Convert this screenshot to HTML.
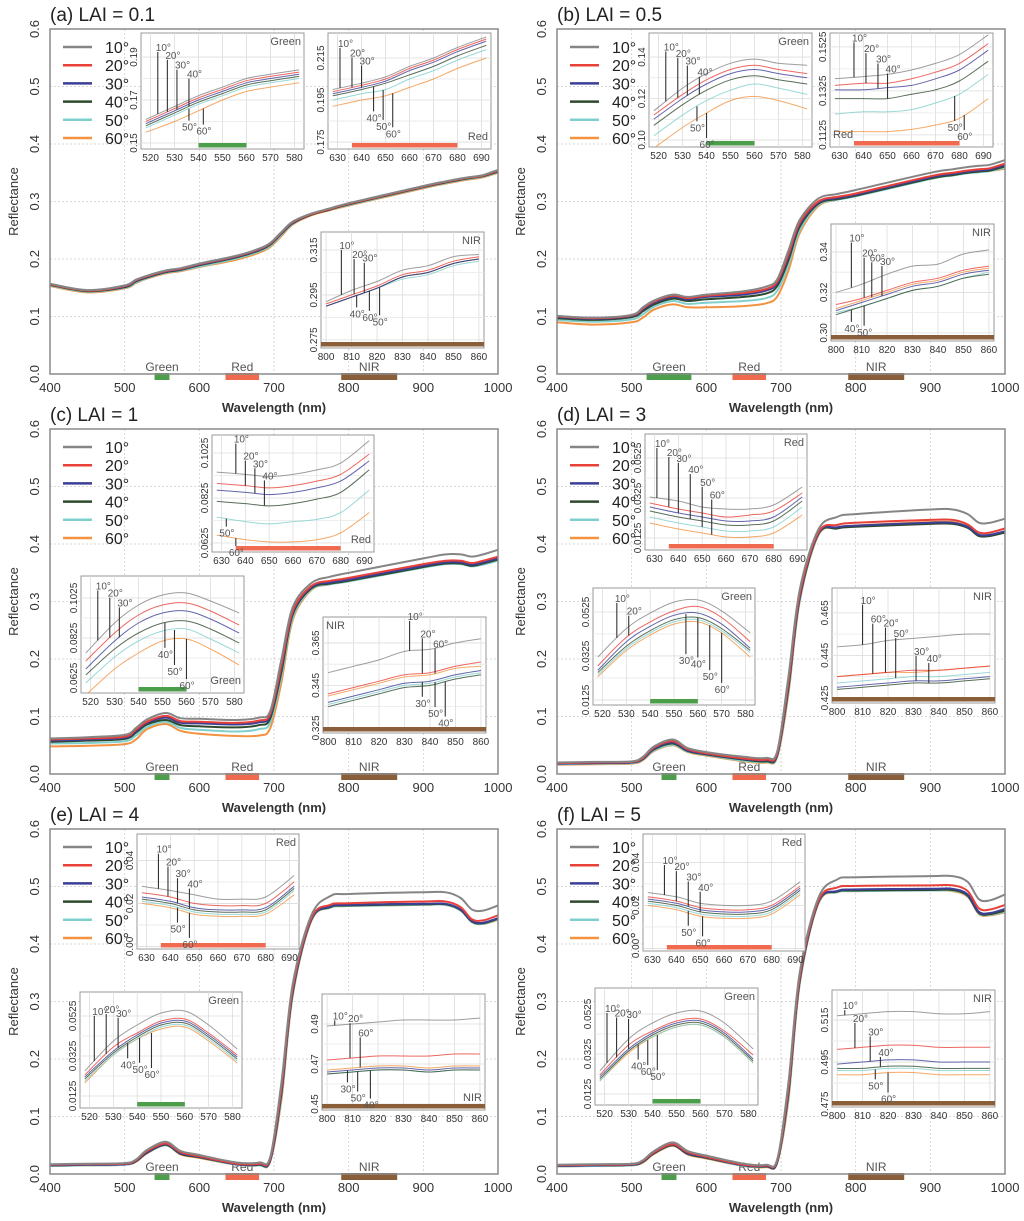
<!DOCTYPE html>
<html><head><meta charset="utf-8">
<style>
html,body{margin:0;padding:0;background:#fff;}
svg{display:block;font-family:"Liberation Sans",sans-serif;}
</style></head>
<body>
<svg id="fig" width="1024" height="1221" viewBox="0 0 1024 1221" xmlns="http://www.w3.org/2000/svg"></svg>
<script>
// ---------- data ----------
const angles = [10,20,30,40,50,60];
const wl = [400,450,500,515,530,555,575,600,650,680,695,710,725,750,775,800,900,930,950,965,980,1000];
const xTicks = [400,500,600,700,800,900,1000];
const yTicks = [0.0,0.1,0.2,0.3,0.4,0.5,0.6];
const yTickLabels = ["0.0","0.1","0.2","0.3","0.4","0.5","0.6"];

const mainA = [
[.157,.146,.154,.164,.171,.180,.184,.192,.206,.218,.228,.247,.265,.279,.288,.297,.327,.335,.340,.343,.346,.355],
[.156,.145,.153,.163,.170,.179,.183,.191,.205,.217,.227,.246,.264,.278,.287,.296,.326,.334,.339,.342,.345,.354],
[.156,.145,.152,.162,.169,.178,.182,.190,.204,.216,.226,.245,.263,.278,.287,.296,.326,.334,.339,.342,.345,.353],
[.155,.144,.151,.161,.168,.177,.181,.189,.203,.215,.225,.244,.262,.277,.286,.295,.325,.333,.338,.341,.344,.352],
[.154,.143,.150,.159,.167,.176,.180,.187,.201,.213,.223,.242,.261,.277,.286,.294,.324,.332,.337,.340,.343,.351],
[.153,.142,.149,.158,.166,.175,.179,.186,.199,.211,.221,.240,.260,.276,.285,.293,.323,.331,.336,.339,.342,.350]];
const mainB = [
[.101,.098,.103,.116,.128,.138,.134,.138,.144,.152,.165,.215,.268,.305,.313,.320,.350,.356,.360,.362,.364,.372],
[.100,.097,.102,.114,.126,.136,.132,.136,.141,.148,.161,.208,.263,.300,.308,.314,.344,.350,.354,.356,.358,.366],
[.099,.096,.101,.112,.124,.134,.130,.134,.138,.145,.158,.204,.260,.298,.306,.312,.342,.348,.352,.354,.356,.364],
[.097,.094,.099,.109,.121,.131,.127,.130,.134,.140,.153,.198,.256,.296,.304,.310,.340,.346,.350,.352,.354,.361],
[.094,.091,.095,.104,.117,.127,.122,.124,.127,.132,.145,.190,.250,.294,.303,.309,.339,.345,.349,.351,.353,.359],
[.090,.086,.090,.098,.112,.121,.116,.116,.118,.123,.135,.180,.245,.292,.303,.310,.340,.346,.350,.352,.353,.357]];
const mainC = [
[.062,.064,.068,.080,.095,.106,.097,.096,.094,.098,.110,.200,.290,.332,.343,.350,.375,.382,.382,.378,.382,.390],
[.060,.062,.065,.077,.091,.101,.092,.091,.089,.093,.105,.190,.283,.327,.336,.341,.365,.371,.371,.367,.371,.378],
[.058,.060,.063,.075,.089,.098,.089,.088,.086,.090,.102,.185,.280,.325,.333,.338,.362,.368,.368,.364,.368,.375],
[.056,.058,.061,.072,.086,.094,.085,.083,.081,.085,.097,.178,.277,.323,.331,.336,.360,.366,.366,.362,.366,.373],
[.053,.054,.057,.067,.082,.091,.080,.077,.074,.078,.090,.170,.272,.321,.330,.335,.359,.365,.365,.361,.364,.371],
[.048,.049,.052,.060,.078,.087,.075,.070,.066,.067,.080,.160,.268,.320,.330,.337,.362,.368,.368,.362,.365,.372]];
const mainD = [
[.020,.021,.022,.030,.048,.060,.045,.038,.030,.028,.040,.170,.320,.425,.447,.452,.460,.460,.452,.437,.437,.444],
[.019,.020,.021,.028,.046,.057,.043,.036,.027,.025,.037,.160,.312,.420,.433,.437,.442,.442,.434,.420,.420,.427],
[.018,.019,.020,.027,.044,.055,.041,.035,.026,.024,.035,.155,.308,.418,.429,.432,.437,.437,.430,.416,.416,.422],
[.018,.019,.020,.026,.043,.053,.040,.034,.025,.022,.033,.150,.305,.417,.427,.430,.435,.435,.428,.414,.414,.420],
[.017,.018,.019,.025,.041,.051,.039,.033,.023,.021,.031,.145,.302,.416,.428,.431,.436,.436,.429,.415,.415,.421],
[.016,.017,.018,.024,.040,.050,.038,.032,.022,.020,.030,.140,.300,.415,.428,.432,.438,.438,.430,.415,.416,.420]];
const mainE = [
[.017,.018,.019,.025,.042,.056,.040,.033,.020,.020,.030,.160,.330,.450,.483,.487,.490,.490,.480,.460,.458,.467],
[.016,.017,.018,.024,.040,.053,.038,.031,.018,.018,.027,.150,.322,.445,.468,.471,.474,.474,.464,.443,.441,.450],
[.015,.016,.017,.023,.038,.052,.036,.030,.017,.017,.025,.145,.318,.443,.465,.468,.470,.470,.460,.440,.437,.445],
[.015,.016,.017,.022,.037,.051,.035,.029,.017,.016,.024,.140,.315,.442,.464,.467,.469,.469,.459,.439,.436,.444],
[.014,.015,.016,.022,.037,.050,.035,.029,.016,.015,.023,.135,.312,.441,.463,.466,.468,.468,.458,.438,.435,.443],
[.014,.015,.016,.021,.036,.050,.034,.028,.016,.015,.022,.130,.310,.440,.463,.466,.468,.468,.458,.438,.435,.442]];
const mainF = [
[.016,.017,.018,.024,.040,.055,.040,.032,.018,.016,.026,.160,.350,.480,.512,.516,.518,.518,.508,.478,.476,.486],
[.015,.016,.017,.023,.038,.052,.038,.030,.016,.015,.024,.150,.342,.475,.498,.501,.502,.502,.492,.462,.460,.468],
[.014,.015,.016,.022,.037,.051,.036,.029,.015,.014,.022,.145,.338,.473,.492,.495,.496,.496,.486,.456,.454,.461],
[.014,.015,.016,.021,.036,.050,.035,.028,.015,.013,.021,.140,.335,.472,.491,.493,.494,.494,.484,.454,.452,.458],
[.013,.014,.015,.021,.036,.050,.035,.028,.014,.013,.021,.135,.332,.471,.490,.492,.493,.493,.483,.453,.451,.456],
[.013,.014,.015,.020,.035,.049,.034,.027,.014,.012,.020,.130,.330,.470,.490,.492,.493,.492,.482,.452,.450,.455]];

const wlGreen = [518,530,540,550,560,570,582];
const wlRed = [628,640,650,660,670,680,692];
const wlNir = [800,810,820,830,840,850,860];
const ticksGreen = [520,530,540,550,560,570,580];
const ticksRed = [630,640,650,660,670,680,690];
const ticksNir = [800,810,820,830,840,850,860];

const aGreen = [[.161,.167,.172,.176,.180,.182,.184],[.160,.166,.171,.175,.179,.181,.183],[.159,.165,.170,.174,.178,.180,.182],[.158,.164,.169,.173,.177,.179,.181],[.157,.163,.168,.172,.176,.178,.180],[.155,.160,.165,.170,.174,.176,.178]];
const aRed = [[.200,.203,.206,.211,.215,.220,.225],[.199,.202,.205,.210,.214,.219,.224],[.198,.201,.204,.209,.213,.218,.223],[.197,.200,.203,.207,.211,.216,.221],[.195,.198,.200,.205,.209,.214,.219],[.192,.195,.197,.201,.205,.210,.215]];
const aNir = [[.292,.297,.301,.306,.308,.312,.313],[.291,.295,.299,.304,.306,.310,.312],[.290,.294,.298,.303,.305,.309,.311],[.290,.294,.298,.303,.305,.309,.311],[.290,.294,.298,.302,.304,.308,.310],[.290,.294,.298,.303,.305,.309,.311]];
const bGreen = [[.114,.125,.132,.137,.139,.137,.136],[.112,.122,.129,.134,.136,.134,.132],[.110,.120,.127,.132,.134,.132,.130],[.107,.117,.124,.129,.131,.129,.127],[.102,.112,.119,.124,.127,.125,.122],[.096,.106,.113,.119,.121,.119,.115]];
const bRed = [[.138,.139,.140,.142,.145,.149,.158],[.135,.136,.136,.138,.141,.145,.154],[.133,.133,.134,.135,.138,.142,.151],[.129,.129,.129,.131,.133,.137,.146],[.122,.123,.123,.124,.127,.131,.140],[.114,.114,.114,.115,.117,.120,.129]];
const bNir = [[.320,.324,.329,.333,.334,.339,.341],[.314,.317,.321,.325,.327,.331,.333],[.311,.315,.319,.323,.325,.329,.331],[.309,.313,.317,.321,.323,.327,.329],[.310,.313,.317,.321,.323,.327,.330],[.312,.316,.320,.324,.326,.330,.332]];
const cRed = [[.094,.093,.092,.093,.095,.098,.108],[.089,.088,.087,.088,.090,.093,.102],[.086,.085,.084,.085,.087,.090,.099],[.081,.080,.079,.080,.082,.085,.095],[.074,.072,.071,.072,.073,.076,.086],[.066,.064,.063,.063,.064,.067,.076]];
const cGreen = [[.075,.090,.099,.104,.105,.101,.095],[.071,.085,.094,.099,.100,.096,.089],[.067,.081,.090,.095,.096,.092,.085],[.064,.077,.085,.090,.091,.087,.080],[.060,.073,.081,.086,.087,.082,.075],[.054,.067,.075,.081,.082,.077,.069]];
const cNir = [[.351,.354,.357,.361,.362,.365,.367],[.341,.344,.347,.350,.351,.354,.356],[.337,.340,.343,.346,.347,.350,.352],[.335,.338,.341,.344,.345,.348,.350],[.336,.339,.342,.345,.346,.349,.351],[.340,.343,.346,.349,.350,.353,.354]];
const dRed = [[.033,.031,.028,.027,.027,.029,.038],[.030,.027,.025,.023,.024,.026,.035],[.028,.025,.023,.021,.021,.023,.033],[.026,.023,.021,.019,.019,.021,.031],[.023,.020,.018,.016,.016,.018,.028],[.020,.017,.015,.013,.013,.015,.024]];
const dGreen = [[.032,.045,.052,.057,.058,.053,.043],[.028,.041,.048,.053,.055,.050,.039],[.026,.039,.046,.051,.052,.047,.036],[.025,.037,.044,.049,.050,.045,.035],[.024,.036,.043,.048,.049,.044,.034],[.023,.035,.042,.047,.048,.043,.032]];
const dNir = [[.449,.450,.452,.453,.454,.455,.455],[.435,.436,.437,.438,.438,.439,.440],[.430,.431,.432,.433,.433,.434,.435],[.429,.430,.431,.432,.432,.433,.434],[.432,.433,.434,.435,.435,.436,.437],[.435,.436,.437,.437,.438,.439,.440]];
const eRed = [[.028,.026,.024,.022,.022,.023,.033],[.025,.023,.020,.019,.019,.020,.030],[.023,.021,.018,.017,.017,.018,.028],[.022,.020,.017,.016,.016,.017,.027],[.021,.019,.016,.015,.015,.016,.026],[.020,.018,.015,.014,.014,.015,.024]];
const eGreen = [[.025,.040,.048,.054,.055,.048,.036],[.023,.037,.044,.050,.051,.044,.033],[.022,.035,.043,.049,.050,.043,.032],[.021,.034,.042,.048,.049,.042,.031],[.020,.033,.041,.047,.048,.041,.030],[.019,.033,.041,.046,.047,.040,.029]];
const eNir = [[.489,.490,.491,.492,.492,.492,.493],[.472,.473,.474,.474,.474,.475,.475],[.466,.467,.468,.468,.467,.468,.468],[.465,.466,.467,.467,.466,.467,.467],[.465,.466,.467,.467,.466,.467,.467],[.467,.468,.469,.469,.468,.469,.469]];
const fRed = [[.026,.024,.021,.020,.020,.022,.031],[.024,.022,.019,.018,.018,.020,.029],[.023,.021,.018,.017,.017,.019,.028],[.022,.020,.017,.016,.016,.018,.027],[.021,.019,.016,.015,.015,.017,.026],[.020,.018,.015,.014,.014,.016,.025]];
const fGreen = [[.024,.040,.048,.053,.054,.048,.035],[.022,.037,.044,.049,.050,.044,.032],[.021,.035,.043,.048,.049,.043,.030],[.020,.034,.042,.047,.048,.042,.029],[.019,.034,.041,.046,.047,.041,.028],[.019,.033,.041,.046,.047,.041,.028]];
const fNir = [[.517,.518,.519,.519,.518,.518,.519],[.501,.502,.503,.503,.502,.502,.502],[.494,.495,.496,.496,.495,.495,.495],[.492,.492,.493,.493,.492,.492,.492],[.491,.491,.492,.492,.491,.491,.491],[.489,.489,.490,.490,.489,.489,.489]];

// ---------- style ----------
const colors = ["#858585","#e8413a","#3c3f96","#2e4a2e","#7fd0cc","#f39240"];
const bandColors = {Green:"#4d9e4a",Red:"#f06a50",NIR:"#8b5e3a"};
const NS = "http://www.w3.org/2000/svg";
const svg = document.getElementById("fig");
function el(tag, attrs, parent){ const e=document.createElementNS(NS,tag); for(const k in attrs) e.setAttribute(k,attrs[k]); (parent||svg).appendChild(e); return e; }
function txt(s, attrs, parent){ const e=el("text",attrs,parent); e.textContent=s; return e; }
function smooth(pts){
  let d="M"+pts[0][0].toFixed(1)+","+pts[0][1].toFixed(1);
  for(let i=0;i<pts.length-1;i++){
    const p0=pts[Math.max(0,i-1)],p1=pts[i],p2=pts[i+1],p3=pts[Math.min(pts.length-1,i+2)];
    const c1x=p1[0]+(p2[0]-p0[0])/6,c1y=p1[1]+(p2[1]-p0[1])/6,c2x=p2[0]-(p3[0]-p1[0])/6,c2y=p2[1]-(p3[1]-p1[1])/6;
    d+=" C"+c1x.toFixed(1)+","+c1y.toFixed(1)+" "+c2x.toFixed(1)+","+c2y.toFixed(1)+" "+p2[0].toFixed(1)+","+p2[1].toFixed(1);
  }
  return d;
}
function interp(xs, ys, x){
  for(let i=0;i<xs.length-1;i++){ if(x>=xs[i]&&x<=xs[i+1]){ const t=(x-xs[i])/(xs[i+1]-xs[i]); return ys[i]+t*(ys[i+1]-ys[i]); } }
  return x<xs[0]?ys[0]:ys[ys.length-1];
}
let clipId=0;

function drawInset(g, ins){
  const ig=el("g",{},g);
  
  
  const xmin=ins.xs[0]-2, xmax=ins.xs[ins.xs.length-1]+2;
  const ix=x=>ins.x+(x-xmin)/(xmax-xmin)*ins.w;
  const iy=v=>ins.y+ins.h-(v-ins.ymin)/(ins.ymax-ins.ymin)*ins.h;
  el("rect",{x:ins.x,y:ins.y,width:ins.w,height:ins.h,fill:"#fff",stroke:"#9a9a9a","stroke-width":1},ig);
  ins.xt.forEach(t=>{ el("line",{x1:ix(t),x2:ix(t),y1:ins.y,y2:ins.y+ins.h,stroke:"#dcdcdc","stroke-width":0.8},ig);
    const l=txt(String(t),{x:ix(t),y:ins.y+ins.h+12,"font-size":10,"text-anchor":"middle",fill:"#333"},ig);
    
     });
  ins.yt.forEach((t,i)=>{ const y=iy(t); el("line",{x1:ins.x,x2:ins.x+ins.w,y1:y,y2:y,stroke:"#dcdcdc","stroke-width":0.8},ig);
    const mid=i<ins.yt.length-1?iy((t+ins.yt[i+1])/2):null;
    if(mid!==null) el("line",{x1:ins.x,x2:ins.x+ins.w,y1:mid,y2:mid,stroke:"#e8e8e8","stroke-width":0.8},ig);
    const l=txt(ins.ytl[i],{x:ins.x-4,y:y,"font-size":10,"text-anchor":"middle",fill:"#333",transform:"rotate(-90 "+(ins.x-4)+" "+y+")"},ig);
    
     });
  const cid="clip"+(clipId++);
  const cp=el("clipPath",{id:cid},ig); el("rect",{x:ins.x,y:ins.y,width:ins.w,height:ins.h},cp);
  const lg=el("g",{"clip-path":"url(#"+cid+")"},ig);
  for(let s=ins.series.length-1;s>=0;s--){
    const pts=ins.xs.map((x,i)=>[ix(x),iy(ins.series[s][i])]);
    const p=el("path",{d:smooth(pts),fill:"none",stroke:colors[s],"stroke-width":1,opacity:0.8},lg);
    
    
  }
  const bb=ins.bandRange;
  const bar=el("rect",{x:ix(bb[0]),y:ins.y+ins.h-6,width:ix(bb[1])-ix(bb[0]),height:4.5,fill:bandColors[ins.band]},ig);
  
  
  const pos=ins.lpos;
  let lx=pos.includes("r")?ins.x+ins.w-3:ins.x+3, ly=pos.includes("t")?ins.y+12:ins.y+ins.h-9;
  const lab=txt(ins.band,{x:lx,y:ly,"font-size":11,"text-anchor":pos.includes("r")?"end":"start",fill:"#555"},ig);
  
  
  ins.ann.forEach(a=>{
    const x=ix(a[0]), y0=iy(interp(ins.xs,ins.series[a[1]],a[0])), y1=y0+a[2];
    el("line",{x1:x,x2:x,y1:y0,y2:y1,stroke:"#333","stroke-width":1.1},ig);
    const t=a[2]<0?txt(angles[a[1]]+"°",{x:x-2,y:y1-1,"font-size":10,fill:"#555"},ig):txt(angles[a[1]]+"°",{x:x-7,y:y1+10,"font-size":10,fill:"#555"},ig);
    
    
  });
}

function drawPanel(p){
  const g=el("g",{});
  
  
  const W=448,H=345,x0=p.x0,yb=p.yb,yt=yb-H;
  const gx=x=>x0+(x-400)/600*W, gy=v=>yb-v/0.6*H;
  const title=txt(p.title,{x:x0,y:yt-8,"font-size":19,fill:"#222"},g);
  
  
  xTicks.slice(1,-1).forEach(t=>el("line",{x1:gx(t),x2:gx(t),y1:yt,y2:yb,stroke:"#ccc","stroke-width":0.8,"stroke-dasharray":"2,2"},g));
  yTicks.slice(1,-1).forEach(t=>el("line",{x1:x0,x2:x0+W,y1:gy(t),y2:gy(t),stroke:"#ccc","stroke-width":0.8,"stroke-dasharray":"2,2"},g));
  xTicks.forEach(t=>{ const l=txt(String(t),{x:gx(t),y:yb+18,"font-size":13,"text-anchor":"middle",fill:"#333"},g);
    
     });
  yTicks.forEach((t,i)=>{ const y=gy(t), lx=x0-11;
    const l=txt(yTickLabels[i],{x:lx,y:y,"font-size":13,"text-anchor":"middle",fill:"#333",transform:"rotate(-90 "+lx+" "+y+")"},g);
    
     });
  const yl=txt("Reflectance",{x:x0-32,y:yt+H/2,"font-size":13,"text-anchor":"middle",fill:"#333",transform:"rotate(-90 "+(x0-32)+" "+(yt+H/2)+")"},g);
  
  
  const xl=txt("Wavelength (nm)",{x:x0+W/2,y:yb+38,"font-size":13,"font-weight":"bold","text-anchor":"middle",fill:"#333"},g);
  
  
  p.bands.forEach(b=>{
    const r=el("rect",{x:gx(b[1]),y:yb-1,width:gx(b[2])-gx(b[1]),height:7,fill:bandColors[b[0]]},g);
    
    
    const l=txt(b[0],{x:(gx(b[1])+gx(b[2]))/2,y:yb-3,"font-size":12,"text-anchor":"middle",fill:"#555"},g);
    
    
  });
  for(let s=p.data.length-1;s>=0;s--){
    const pts=wl.map((x,i)=>[gx(x),gy(p.data[s][i])]);
    const path=el("path",{d:smooth(pts),fill:"none",stroke:colors[s],"stroke-width":2},g);
    
    
  }
  el("rect",{x:x0,y:yt,width:W,height:H,fill:"none",stroke:"#8a8a8a","stroke-width":1.5},g);
  angles.forEach((a,i)=>{
    const ly=yt+18+i*18.2;
    const ln=el("line",{x1:x0+13,x2:x0+42,y1:ly,y2:ly,stroke:colors[i],"stroke-width":2.5},g);
    
    
    const t=txt(a+"°",{x:x0+55,y:ly+6,"font-size":16,fill:"#222"},g);
    
    
  });
  p.insets.forEach(ins=>drawInset(g,ins));
}

function G(x,y,w,h,series,ymin,ymax,yt,ytl,lpos,ann){return {x,y,w,h,series,ymin,ymax,yt,ytl,lpos,ann,band:"Green",xs:wlGreen,xt:ticksGreen,bandRange:[540,560]};}
function R(x,y,w,h,series,ymin,ymax,yt,ytl,lpos,ann){return {x,y,w,h,series,ymin,ymax,yt,ytl,lpos,ann,band:"Red",xs:wlRed,xt:ticksRed,bandRange:[636,680]};}
function N(x,y,w,h,series,ymin,ymax,yt,ytl,lpos,ann){return {x,y,w,h,series,ymin,ymax,yt,ytl,lpos,ann,band:"NIR",xs:wlNir,xt:ticksNir,bandRange:[798,862]};}
const std=[["Green",540,560],["Red",635,680],["NIR",790,865]];

const panels=[
 {id:"a",title:"(a) LAI = 0.1",x0:50,yb:374,data:mainA,bands:std,insets:[
   G(141,33,163,116,aGreen,.1472,.2012,[.15,.17,.19],["0.15","0.17","0.19"],"tr",[[523,0,-62],[527,1,-52],[531,2,-40],[536,3,-28],[536,4,12],[542,5,16]]),
   R(328,33,163,116,aRed,.1717,.2269,[.175,.195,.215],["0.175","0.195","0.215"],"br",[[631,0,-40],[636,1,-30],[640,2,-22],[645,3,25],[649,4,30],[653,5,34]]),
   N(321,232,163,116,aNir,.2714,.323,[.275,.295,.315],["0.275","0.295","0.315"],"tr",[[806,0,-45],[811,1,-35],[815,2,-30],[812,3,12],[817,5,20],[821,4,28]])]},
 {id:"b",title:"(b) LAI = 0.5",x0:557,yb:374,data:mainB,bands:[["Green",520,580],["Red",635,680],["NIR",790,865]],insets:[
   G(649,33,163,114,bGreen,.0966,.1516,[.10,.12,.14],["0.10","0.12","0.14"],"tr",[[523,0,-50],[528,1,-40],[532,2,-30],[537,3,-18],[536,4,15],[540,5,25]]),
   R(830,33,163,114,bRed,.107,.1588,[.1125,.1325,.1525],["0.1125","0.1325","0.1525"],"bl",[[636,0,-35],[641,1,-30],[646,2,-25],[650,3,-25],[678,4,25],[682,5,15]]),
   N(831,224,163,117,bNir,.296,.3538,[.30,.32,.34],["0.30","0.32","0.34"],"tr",[[806,0,-45],[811,1,-40],[814,5,-35],[818,2,-30],[806,3,12],[811,4,20]])]},
 {id:"c",title:"(c) LAI = 1",x0:50,yb:774,data:mainC,bands:std,insets:[
   R(212,435,162,117,cRed,.0585,.1105,[.0625,.0825,.1025],["0.0625","0.0825","0.1025"],"br",[[636,0,-30],[640,1,-25],[644,2,-25],[648,3,-25],[632,4,8],[636,5,8]]),
   G(81,576,163,117,cGreen,.055,.1135,[.0625,.0825,.1025],["0.0625","0.0825","0.1025"],"br",[[523,0,-50],[528,1,-40],[532,2,-30],[551,3,25],[555,4,35],[560,5,40]]),
   N(323,617,163,116,cNir,.3226,.3772,[.325,.345,.365],["0.325","0.345","0.365"],"tl",[[832,0,-30],[837,1,-35],[842,5,-25],[837,2,15],[842,4,25],[846,3,35]])]},
 {id:"d",title:"(d) LAI = 3",x0:557,yb:774,data:mainD,bands:std,insets:[
   R(645,434,162,116,dRed,.0065,.0645,[.0125,.0325,.0525],["0.0125","0.0325","0.0525"],"tr",[[631,0,-50],[636,1,-50],[640,2,-50],[645,3,-45],[650,4,-40],[654,5,-35]]),
   G(593,588,162,117,dGreen,.0102,.0634,[.0125,.0325,.0525],["0.0125","0.0325","0.0525"],"tr",[[526,0,-35],[531,1,-20],[555,2,40],[560,3,40],[565,4,45],[570,5,50]]),
   N(832,588,163,115,dNir,.4226,.4767,[.425,.445,.465],["0.425","0.445","0.465"],"tr",[[810,0,-40],[814,5,-50],[819,1,-45],[823,4,-40],[831,2,-25],[836,3,-20]])]},
 {id:"e",title:"(e) LAI = 4",x0:50,yb:1174,data:mainE,bands:std,insets:[
   R(137,834,162,115,eRed,-.0012,.0523,[0,.02,.04],["0.00","0.02","0.04"],"tr",[[635,0,-35],[639,1,-30],[643,2,-25],[648,3,-20],[643,4,15],[648,5,25]]),
   G(80,992,162,116,eGreen,.0065,.0645,[.0125,.0325,.0525],["0.0125","0.0325","0.0525"],"tr",[[522,0,-45],[527,1,-40],[532,2,-30],[536,3,15],[541,4,25],[546,5,35]]),
   N(322,994,163,116,eNir,.447,.505,[.45,.47,.49],["0.45","0.47","0.49"],"br",[[803,0,-5],[809,1,-35],[813,5,-30],[808,2,12],[812,4,20],[817,3,28]])]},
 {id:"f",title:"(f) LAI = 5",x0:557,yb:1174,data:mainF,bands:std,insets:[
   R(643,834,162,117,fRed,-.0012,.0532,[0,.02,.04],["0.00","0.02","0.04"],"tr",[[635,0,-30],[640,1,-30],[645,2,-25],[650,3,-20],[645,4,15],[651,5,20]]),
   G(595,988,163,117,fGreen,.007,.0655,[.0125,.0325,.0525],["0.0125","0.0325","0.0525"],"tr",[[521,0,-50],[525,1,-40],[530,2,-30],[534,3,15],[538,5,25],[542,4,35]]),
   N(832,990,163,117,fNir,.4736,.5293,[.475,.495,.515],["0.475","0.495","0.515"],"tr",[[803,0,-5],[807,1,-25],[813,2,-25],[817,3,-10],[815,4,10],[820,5,20]])]}
];
panels.forEach(drawPanel);
</script>
</body></html>
